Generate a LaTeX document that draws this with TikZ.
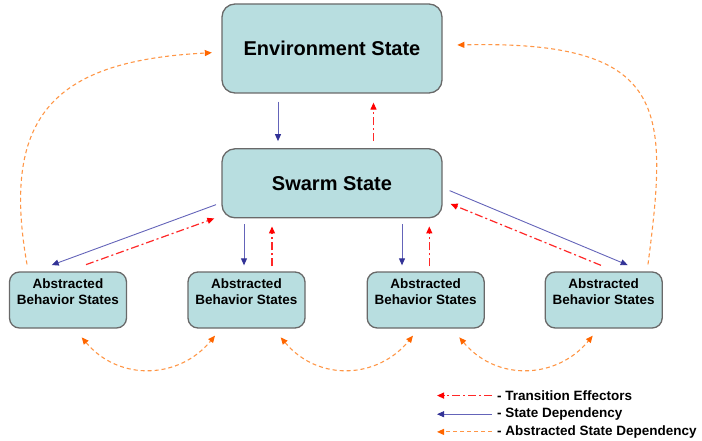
\documentclass[tikz,border=0pt]{standalone}
\usepackage{fontspec}
\setmainfont{Liberation Sans}
\usepackage{tikz}
\usetikzlibrary{arrows.meta}
\usetikzlibrary{calc}
\usetikzlibrary{positioning}

\definecolor{boxfill}{RGB}{184,222,224}
\definecolor{boxline}{RGB}{105,105,105}
\definecolor{depline}{RGB}{100,100,185}
\definecolor{depdark}{RGB}{50,50,150}
\definecolor{effline}{RGB}{255,40,40}
\definecolor{effdark}{RGB}{255,0,0}
\definecolor{absline}{RGB}{255,150,70}
\definecolor{absdark}{RGB}{255,102,0}

\begin{document}
\begin{tikzpicture}[x=1pt,y=-1pt,
    dtip/.tip={Triangle[length=7pt,width=6pt,color=depdark]},
    etip/.tip={Triangle[length=7pt,width=6pt,color=effdark]},
    atip/.tip={Triangle[length=7pt,width=6pt,color=absdark]},
    statebox/.style={draw=boxline,fill=boxfill,line width=1.3pt,rounded corners=13pt,
      minimum width=220pt,inner sep=0pt,font=\fontsize{20}{24}\selectfont\bfseries},
    absbox/.style={draw=boxline,fill=boxfill,line width=1.3pt,rounded corners=10pt,
      minimum width=117pt,minimum height=56pt,inner sep=0pt,align=center,
      font=\fontsize{13.5}{16}\selectfont\bfseries},
    legtext/.style={anchor=base west,inner sep=0pt,font=\fontsize{13.5}{16}\selectfont\bfseries},
    dep/.style={color=depline,line width=0.9pt,-dtip},
    eff/.style={color=effline,line width=1.2pt,dash pattern=on 8pt off 3pt on 2pt off 3pt,-etip},
    absdep/.style={color=absline,line width=1.1pt,dash pattern=on 4pt off 3pt,-atip},
    absboth/.style={absdep,atip-atip}]
  \useasboundingbox (0,0) rectangle (702,441);

  %% the two main states
  \node[statebox,minimum height=89pt] (env) at (332,48.5) {Environment State};
  \node[statebox,minimum height=69pt] (swarm) at (332,183.3) {Swarm State};

  %% abstracted behavior states (last line left empty, text sits high)
  \node[absbox] (abs_1) at (68,300) {Abstracted\\Behavior States\\~};
  \node[absbox] (abs_2) at (246.5,300) {Abstracted\\Behavior States\\~};
  \node[absbox] (abs_3) at (425.7,300) {Abstracted\\Behavior States\\~};
  \node[absbox] (abs_4) at (603.7,300) {Abstracted\\Behavior States\\~};

  %% environment <-> swarm
  \draw[dep] ($(env.south)+(-54,8)$) -- ($(swarm.north)+(-54,-7)$);
  \draw[eff] ($(swarm.north)+(41.5,-7)$) -- ($(env.south)+(41.5,9)$);

  %% swarm <-> abstracted states
  \draw[dep] ($(swarm.south west)+(-5.3,-13.8)$) -- ($(abs_1.north)+(-16.3,-6.3)$);
  \draw[eff] ($(abs_1.north)+(18,-6.7)$) -- ($(swarm.south west)+(-7,0)$);
  \draw[dep] ($(swarm.south)+(-88,6)$) -- ($(abs_2.north)+(-2.5,-6)$);
  \draw[eff] ($(abs_2.north)+(25.5,-5)$) -- ($(swarm.south)+(-60,8)$);
  \draw[dep] ($(swarm.south)+(70,6)$) -- ($(abs_3.north)+(-23.7,-6)$);
  \draw[eff] ($(abs_3.north)+(3.6,-5)$) -- ($(swarm.south)+(97.3,8)$);
  \draw[dep] ($(swarm.south east)+(7,-27.8)$) -- ($(abs_4.north)+(24,-6.3)$);
  \draw[eff] ($(abs_4.north)+(-2.7,-6)$) -- ($(swarm.south east)+(8,-14.5)$);

  %% abstracted state dependency
  \draw[absdep] ($(abs_1.north)+(-41,-7)$) .. controls +(-27,-152) and +(-154,8) .. ($(env.west)+(-9.5,4.2)$);
  \draw[absdep] ($(abs_4.north)+(44.3,-7)$) .. controls +(20,-155) and +(213,-5) .. ($(env.east)+(14.7,-3.5)$);
  \draw[absboth] ($(abs_1.south)+(13.7,8.7)$) .. controls +(38,45) and +(-35,43) .. ($(abs_2.south)+(-31.5,7)$);
  \draw[absboth] ($(abs_2.south)+(34.2,8.7)$) .. controls +(38,45) and +(-35,43) .. ($(abs_3.south)+(-12.7,7)$);
  \draw[absboth] ($(abs_3.south)+(33.6,8.7)$) .. controls +(38,45) and +(-35,43) .. ($(abs_4.south)+(-11,7)$);

  %% legend
  \node[legtext] (leg_eff) at (497,400) {- Transition Effectors};
  \node[legtext] (leg_dep) at (497,417.3) {- State Dependency};
  \node[legtext] (leg_abs) at (497,435) {- Abstracted State Dependency};
  \coordinate (eff_end) at ($(leg_eff.west)+(-60,0.4)$);
  \coordinate (dep_end) at ($(leg_dep.west)+(-60,0.4)$);
  \coordinate (abs_end) at ($(leg_abs.west)+(-60,0.4)$);
  \draw[eff] ($(leg_eff.west)+(-5,0.4)$) -- (eff_end);
  \draw[dep] ($(leg_dep.west)+(-5,0.4)$) -- (dep_end);
  \draw[absdep] ($(leg_abs.west)+(-5,0.4)$) -- (abs_end);
\end{tikzpicture}
\end{document}
